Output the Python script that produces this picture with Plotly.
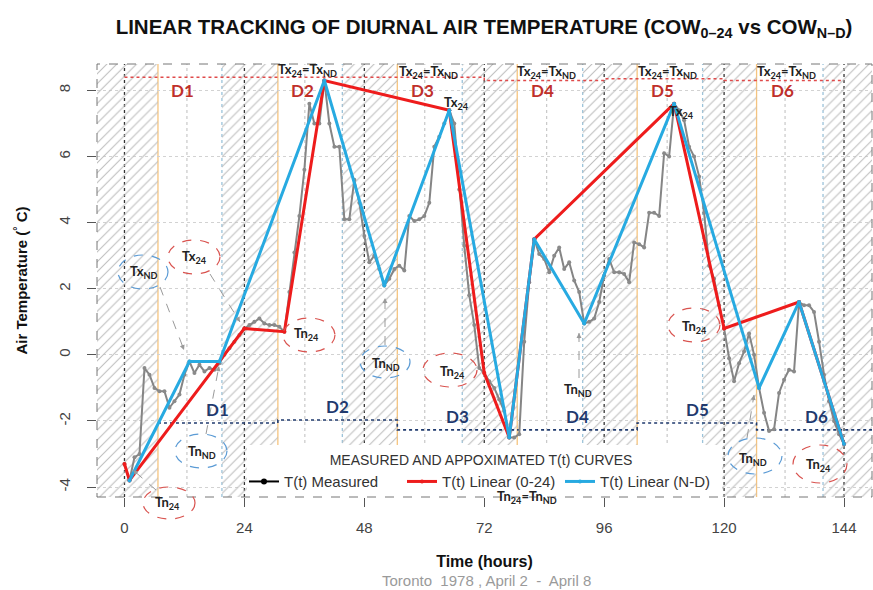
import plotly.graph_objects as go

# ---------------- data ----------------
hours = list(range(0, 145))
measured = [
    -3.3, -3.8, -3.1, -3.0, -0.4, -0.6, -1.0, -1.1, -1.1, -1.6,
    -1.4, -1.2, -0.6, -0.2, -0.55, -0.3, -0.5, -0.4, -0.45, -0.25,
    0.0, 0.2, 0.4, 0.6, 0.8, 0.9, 1.0, 1.1, 0.95, 0.9,
    0.9, 0.85, 0.7, 1.9, 3.1, 4.2, 5.6, 7.6, 7.0, 7.0,
    8.3, 7.0, 6.3, 6.3, 4.1, 4.1, 5.3, 4.6, 3.6, 2.8,
    3.0, 2.6, 2.1, 2.3, 2.6, 2.7, 2.55, 4.2, 4.05, 4.1,
    4.2, 4.6, 6.3, 6.6, 7.0, 7.4, 7.0, 5.0, 3.3, 1.8,
    0.9, -0.4, -0.55, -0.8, -1.0, -1.35, -1.7, -2.5, -2.5, -2.4,
    0.4, 2.2, 3.5, 3.05, 2.9, 2.5, 3.0, 3.25, 2.6, 2.8,
    2.25, 1.9, 0.95, 1.0, 1.1, 1.6, 2.4, 2.9, 2.5, 2.5,
    2.45, 2.2, 3.4, 3.35, 3.25, 4.3, 4.3, 4.2, 6.1, 6.0,
    7.6, 7.4, 7.1, 6.3, 6.0, 5.4, 4.3, 2.7, 2.3, 1.5,
    0.8, -0.1, -0.8, -0.25, 0.1, 0.65, 0.0, -1.0, -1.75, -2.3,
    -2.25, -1.15, -0.75, -0.45, -0.5, 1.6, 1.5, 1.5, 1.3, 0.4,
    -0.6, -1.4, -2.0, -2.4, -2.7,
]
lin24_t = [0, 1, 24, 32, 40, 65, 72, 77, 82, 110, 120, 135, 144]
lin24_v = [-3.3, -3.8, 0.8, 0.7, 8.3, 7.4, -0.55, -2.5, 3.5, 7.6, 0.8, 1.6, -2.7]
linnd_t = [1, 13, 19, 40, 52, 65, 77, 82, 92, 110, 127, 135, 144]
linnd_v = [-3.8, -0.2, -0.2, 8.3, 2.1, 7.4, -2.5, 3.5, 0.95, 7.6, -1.0, 1.6, -2.7]

day_bounds = [0, 24, 48, 72, 96, 120, 144]
sunrise = [6.7, 30.7, 54.6, 78.6, 102.6, 126.5]
sunset = [19.5, 43.6, 67.6, 91.7, 115.7, 139.8]
noon = [12.5, 36.1, 60.1, 84.5, 108.6, 132.2]
day_labels = ["D1", "D2", "D3", "D4", "D5", "D6"]
win24_level = [8.4, 8.4, 8.4, 8.3, 8.35, 8.3]
winnd_level = [-2.06, -1.97, -2.27, -2.27, -2.06, -2.27]
x_ticks = [0, 24, 48, 72, 96, 120, 144]
y_ticks = [-4, -2, 0, 2, 4, 6, 8]
y_ticktext = ["-4", "-2", "0", "2", "4", "6", "8"]

# ---------------- layout constants ----------------
W, H = 873, 590
PL, PR, PT, PB = 97, 872, 64, 497
XMIN, XMAX = -5.5, 149.6
YMIN, YMAX = -4.3, 8.8
FONT = "Liberation Sans, Arial, sans-serif"
LFONT = "Lato, Liberation Sans, sans-serif"


def fx(p):
    return (p - PL) / (PR - PL)


def fy(p):
    return (PB - p) / (PB - PT)


def dx(p):
    return XMIN + fx(p) * (XMAX - XMIN)


def dy(p):
    return YMIN + fy(p) * (YMAX - YMIN)


fig = go.Figure()

# hatched night areas
night = [(XMIN, sunrise[0])] + [(sunset[k], sunrise[k + 1]) for k in range(5)] + [(sunset[5], XMAX)]
hx, hy = [], []
for a, b in night:
    hx += [a, b, b, a, a, None]
    hy += [YMIN, YMIN, YMAX, YMAX, YMIN, None]
fig.add_trace(go.Scatter(
    x=hx, y=hy, mode="lines", line=dict(width=0), fill="toself",
    fillcolor="rgba(0,0,0,0)",
    fillpattern=dict(shape="/", size=7, solidity=0.15, fgcolor="#bdbdbd",
                     bgcolor="rgba(0,0,0,0)", fillmode="replace"),
    hoverinfo="skip", showlegend=False))

# white legend box
bx0, bx1, by0, by1 = dx(247), dx(722), YMIN, dy(445)
fig.add_trace(go.Scatter(
    x=[bx0, bx1, bx1, bx0, bx0], y=[by0, by0, by1, by1, by0], mode="lines",
    line=dict(width=0), fill="toself", fillcolor="white",
    hoverinfo="skip", showlegend=False))

# window step lines
tx, ty = [], []
for k in range(6):
    tx += [day_bounds[k], day_bounds[k + 1]]
    ty += [win24_level[k]] * 2
fig.add_trace(go.Scatter(x=tx, y=ty, mode="lines", line=dict(color="#e04a4a", width=1.5, dash="dot"),
                         hoverinfo="skip", showlegend=False))
nd_end = sunrise[1:] + [XMAX]
nx, ny = [], []
for k in range(6):
    nx += [sunrise[k], nd_end[k]]
    ny += [winnd_level[k]] * 2
fig.add_trace(go.Scatter(x=nx, y=ny, mode="lines", line=dict(color="#1f3a6e", width=1.6, dash="dot"),
                         hoverinfo="skip", showlegend=False))

# data traces
fig.add_trace(go.Scatter(x=hours, y=measured, mode="lines+markers", name="T(t) Measured",
                         line=dict(color="#858585", width=2),
                         marker=dict(color="#8a8a8a", size=4), showlegend=False))
fig.add_trace(go.Scatter(x=lin24_t, y=lin24_v, mode="lines+markers", name="T(t) Linear (0-24)",
                         line=dict(color="#ee1c1c", width=3),
                         marker=dict(color="#ee1c1c", size=4), legendrank=2))
fig.add_trace(go.Scatter(x=linnd_t, y=linnd_v, mode="lines+markers", name="T(t) Linear (N-D)",
                         line=dict(color="#27aae1", width=3),
                         marker=dict(color="#27aae1", size=4), legendrank=3))
fig.add_trace(go.Scatter(x=[None], y=[None], mode="lines+markers", name="T(t) Measured",
                         line=dict(color="black", width=2), marker=dict(color="black", size=6),
                         legendrank=1))

shapes = []
for d in day_bounds:
    shapes.append(dict(type="line", xref="x", yref="paper", x0=d, x1=d, y0=0, y1=1,
                       line=dict(color="#333333", width=1.3, dash="dot"), layer="below"))
for s in sunrise:
    shapes.append(dict(type="line", xref="x", yref="paper", x0=s, x1=s, y0=0, y1=1,
                       line=dict(color="#f6c47e", width=1.3), layer="below"))
for s in sunset:
    shapes.append(dict(type="line", xref="x", yref="paper", x0=s, x1=s, y0=0, y1=1,
                       line=dict(color="#9cc3da", width=1.3, dash="dot"), layer="below"))
for s in noon:
    shapes.append(dict(type="line", xref="x", yref="paper", x0=s, x1=s, y0=0, y1=1,
                       line=dict(color="#bdbdbd", width=1, dash="dot"), layer="below"))
# frame
shapes.append(dict(type="rect", xref="paper", yref="paper", x0=0, x1=1, y0=0, y1=1,
                   line=dict(color="#777777", width=1, dash="dash"), layer="above"))

# ellipses (pixel positions)
RED_E, BLUE_E = "#d9534f", "#5b9bd5"
ellipses = [
    (143, 272, 25, 17, BLUE_E), (194, 257, 26, 17, RED_E), (309, 335, 26, 17, RED_E),
    (385, 362, 25, 16, BLUE_E), (450, 370, 27, 17, RED_E), (694, 325, 26, 17, RED_E),
    (755, 456, 27, 18, BLUE_E), (820, 464, 27, 19, RED_E), (201, 451, 26, 17, BLUE_E),
    (169, 503, 26, 16, RED_E),
]
for cx, cy, rx, ry, c in ellipses:
    shapes.append(dict(type="circle", xref="paper", yref="paper",
                       x0=fx(cx - rx), x1=fx(cx + rx), y0=fy(cy + ry), y1=fy(cy - ry),
                       line=dict(color=c, width=1.2, dash="dash"), layer="above"))

# dashed arrows
arrows = [
    (160, 287, 184, 350), (210, 274, 240, 322), (385, 345, 385, 298), (579, 378, 579, 333),
    (747, 438, 754, 395), (156, 490, 133, 470), (206, 434, 219, 366),
]
annotations = []
for x0, y0, x1, y1 in arrows:
    shapes.append(dict(type="line", xref="paper", yref="paper", x0=fx(x0), y0=fy(y0),
                       x1=fx(x1), y1=fy(y1), line=dict(color="#9a9a9a", width=1, dash="dash"),
                       layer="above"))
    L = ((x1 - x0) ** 2 + (y1 - y0) ** 2) ** 0.5
    annotations.append(dict(xref="paper", yref="paper", x=fx(x1), y=fy(y1), text="",
                            showarrow=True, arrowhead=2, arrowsize=1, arrowwidth=1,
                            arrowcolor="#9a9a9a", ax=-(x1 - x0) / L * 7, ay=-(y1 - y0) / L * 7))

# text labels (pixel positions)
labels = [
    ("Tx<sub>ND</sub>", 143, 272), ("Tx<sub>24</sub>", 194, 257), ("Tn<sub>24</sub>", 306, 334),
    ("Tn<sub>ND</sub>", 386, 364), ("Tn<sub>24</sub>", 452, 372), ("Tn<sub>24</sub>", 694, 327),
    ("Tn<sub>ND</sub>", 753, 459), ("Tn<sub>24</sub>", 818, 465), ("Tn<sub>ND</sub>", 202, 452),
    ("Tn<sub>24</sub>", 167, 503), ("Tn<sub>ND</sub>", 578, 390), ("Tx<sub>24</sub>", 456, 103),
    ("Tx<sub>24</sub>", 681, 112), ("Tn<sub>24</sub>=Tn<sub>ND</sub>", 527, 497),
    ("Tx<sub>24</sub>=Tx<sub>ND</sub>", 307, 70), ("Tx<sub>24</sub>=Tx<sub>ND</sub>", 428, 72),
    ("Tx<sub>24</sub>=Tx<sub>ND</sub>", 546, 72), ("Tx<sub>24</sub>=Tx<sub>ND</sub>", 667, 72),
    ("Tx<sub>24</sub>=Tx<sub>ND</sub>", 786, 72),
]
for t, px_, py_ in labels:
    annotations.append(dict(xref="paper", yref="paper", x=fx(px_), y=fy(py_), text="<b>" + t + "</b>",
                            showarrow=False, xanchor="center", yanchor="middle",
                            font=dict(family=LFONT, size=13, color="#222222")))

# day labels
for k in range(6):
    annotations.append(dict(xref="x", yref="y", x=(day_bounds[k] + day_bounds[k + 1]) / 2 - 0.4, y=8.0,
                            text="<b>" + day_labels[k] + "</b>", showarrow=False,
                            font=dict(family=LFONT, size=17, color="#c0302a")))
    annotations.append(dict(xref="x", yref="y", x=sunrise[k] + 12, y=winnd_level[k] + 0.02,
                            yanchor="bottom", text="<b>" + day_labels[k] + "</b>", showarrow=False,
                            font=dict(family=LFONT, size=17, color="#1f3a6e")))

# subtitle
annotations.append(dict(xref="paper", yref="paper", x=fx(486), y=fy(580), xanchor="center", yanchor="middle",
                        text="Toronto  1978 , April 2  -  April 8",
                        showarrow=False, font=dict(family=FONT, size=15, color="#9a9a9a")))

fig.update_layout(
    width=W, height=H, margin=dict(l=PL, r=W - PR, t=PT, b=H - PB),
    paper_bgcolor="white", plot_bgcolor="white",
    font=dict(family=FONT, color="#333333"),
    title=dict(text="<b>LINEAR TRACKING OF DIURNAL AIR TEMPERATURE (COW<sub>0–24</sub> vs COW<sub>N–D</sub>)</b>",
               x=484 / W, xanchor="center", y=1 - 27 / H, yanchor="middle",
               font=dict(family=FONT, size=20.5, color="#111111")),
    xaxis=dict(range=[XMIN, XMAX], tickvals=x_ticks, ticks="outside", ticklen=9, tickcolor="#555555",
               tickfont=dict(size=15, color="#444444"), showgrid=False, zeroline=False, showline=False,
               ticklabelstandoff=8,
               title=dict(text="<b>Time (hours)</b>", font=dict(size=16, color="#111111"), standoff=20)),
    yaxis=dict(range=[YMIN, YMAX], tickvals=y_ticks, ticktext=y_ticktext, ticks="outside", ticklen=9,
               tickcolor="#555555",
               tickangle=-90, tickfont=dict(size=15, color="#444444"), showgrid=True,
               gridcolor="#d2d2d2", griddash="dot", zeroline=False, showline=False,
               ticklabelstandoff=11,
               title=dict(text="<b>Air Temperature (<sup>°</sup> C)</b>", font=dict(size=15, color="#111111"),
                          standoff=24)),
    legend=dict(orientation="h", x=fx(244), xanchor="left", y=fy(447), yanchor="top",
                bgcolor="rgba(0,0,0,0)", font=dict(size=15, color="#333333"),
                title=dict(text="MEASURED AND APPOXIMATED T(t) CURVES", side="top center",
                           font=dict(size=14, color="#333333")),
                entrywidth=113, entrywidthmode="pixels", itemwidth=30, tracegroupgap=0),
    shapes=shapes, annotations=annotations,
)

fig.write_html("out.html")
